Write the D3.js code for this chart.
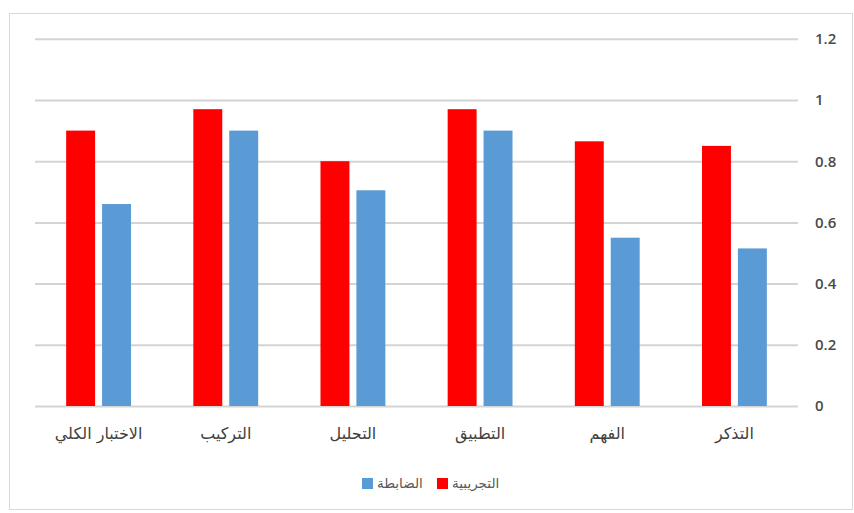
<!DOCTYPE html>
<html>
<head>
<meta charset="utf-8">
<script src="https://cdn.jsdelivr.net/npm/d3@7"></script>
<style>
  body { margin: 0; background: #fff; }
  svg { display: block; }
</style>
</head>
<body>
<div id="chart"></div>
<script>
// categories, right to left as in the original
const categories = ['التذكر', 'الفهم', 'التطبيق', 'التحليل', 'التركيب', 'الاختبار الكلي'];
const seriesNames = ['التجريبية', 'الضابطة'];
const experimental = [0.85, 0.865, 0.97, 0.8, 0.97, 0.9];
const control = [0.515, 0.55, 0.9, 0.705, 0.9, 0.66];
const yTicks = [0, 0.2, 0.4, 0.6, 0.8, 1, 1.2];
const colors = ['#ff0000', '#5b9bd5'];

const width = 854, height = 513;
const plotLeft = 35, plotRight = 798, plotTop = 38.8, plotBottom = 406;

const svg = d3.select('#chart').append('svg')
    .attr('width', width)
    .attr('height', height);

// chart frame
svg.append('rect')
    .attr('x', 9.5).attr('y', 13.5)
    .attr('width', 843).attr('height', 496)
    .attr('fill', 'none')
    .attr('stroke', '#d9d9d9');

const y = d3.scaleLinear().domain([0, 1.2]).range([plotBottom, plotTop]);

// x runs right to left
const x0 = d3.scaleBand()
    .domain(categories)
    .range([plotRight, plotLeft])
    .paddingInner(0.49)
    .paddingOuter(0.245);

const x1 = d3.scaleBand()
    .domain(seriesNames)
    .range([0, x0.bandwidth()])
    .paddingInner(0.194);

// y axis on the right, gridlines across
const yAxis = svg.append('g')
    .attr('transform', `translate(${plotRight},0)`)
    .call(d3.axisRight(y)
        .tickValues(yTicks)
        .tickSize(-(plotRight - plotLeft))
        .tickPadding(17)
        .tickFormat(d3.format('')));

yAxis.select('.domain').remove();
yAxis.selectAll('line')
    .attr('stroke', '#d4d4d4')
    .attr('stroke-width', 2);
yAxis.selectAll('text')
    .attr('fill', '#4a4a4a')
    .style('font-family', '"Open Sans", sans-serif')
    .style('font-weight', 600)
    .style('font-size', '15px');

// bars
const rows = categories.map((c, i) => ({ cat: c, values: [experimental[i], control[i]] }));

svg.append('g')
  .selectAll('g')
  .data(rows)
  .join('g')
    .attr('transform', d => `translate(${x0(d.cat)},0)`)
  .selectAll('rect')
  .data(d => d.values.map((v, j) => ({ name: seriesNames[j], value: v, j })))
  .join('rect')
    .attr('x', d => x1(d.name))
    .attr('y', d => y(d.value))
    .attr('width', x1.bandwidth())
    .attr('height', d => y(0) - y(d.value))
    .attr('fill', d => colors[d.j]);

// category labels
const xAxis = svg.append('g')
    .attr('transform', `translate(0,${plotBottom})`)
    .call(d3.axisBottom(x0).tickSize(0).tickPadding(22));

xAxis.select('.domain').remove();
xAxis.selectAll('text')
    .attr('fill', '#404040')
    .style('font-family', '"DejaVu Sans", sans-serif')
    .style('font-size', '16px');

// legend
const legendX = [437, 362];
const legend = svg.append('g')
  .selectAll('g')
  .data(seriesNames)
  .join('g')
    .attr('transform', (d, i) => `translate(${legendX[i]},478)`);

legend.append('rect')
    .attr('width', 11).attr('height', 11)
    .attr('fill', (d, i) => colors[i]);

legend.append('text')
    .attr('x', 15)
    .attr('y', 10)
    .attr('fill', '#595959')
    .style('font-family', '"DejaVu Sans", sans-serif')
    .style('font-size', '13.5px')
    .text(d => d);
</script>
</body>
</html>
